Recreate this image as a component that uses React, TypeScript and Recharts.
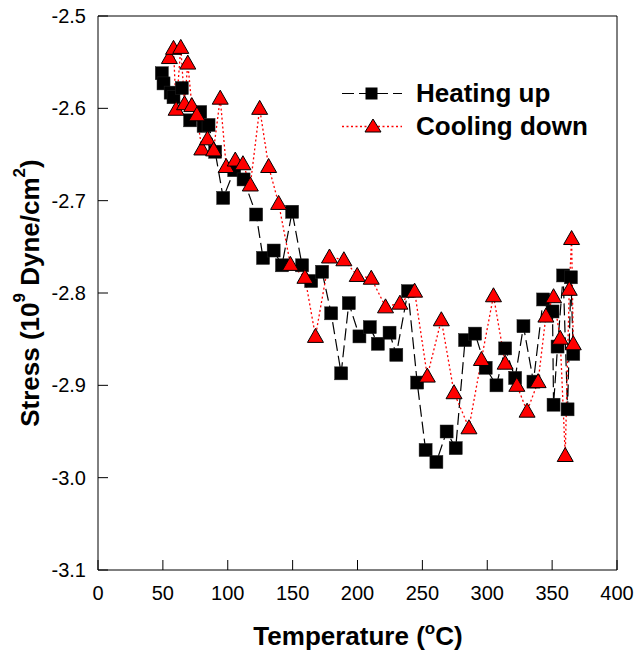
import React from "react";
import {
  LineChart,
  Line,
  XAxis,
  YAxis,
  ReferenceLine,
} from "recharts";

// Heating up (black squares)
const heatTemp = [
  49.2, 50.5, 56, 58.2, 64.6, 71, 78.8, 81.4, 85.2, 90.3, 96.5, 105, 112.2,
  121.9, 127.2, 135.4, 141.8, 149.6, 157.3, 164.3, 172.7, 179.7, 187.4, 193.3,
  201.5, 209.5, 215.7, 224.7, 229.9, 238.9, 246, 252.5, 260.8, 268.7, 275.7,
  282.9, 290.6, 298.8, 307.1, 313.8, 321.5, 327.9, 335.6, 343.1, 350.3, 351.1,
  354.2, 358.5, 361.9, 364.5, 366.3,
];
const heatStress = [
  -2.562, -2.573, -2.583, -2.588, -2.578, -2.613, -2.604, -2.619, -2.618,
  -2.647, -2.697, -2.667, -2.677, -2.715, -2.762, -2.754, -2.77, -2.712, -2.77,
  -2.787, -2.777, -2.822, -2.887, -2.811, -2.847, -2.837, -2.855, -2.843,
  -2.867, -2.798, -2.897, -2.97, -2.983, -2.95, -2.968, -2.851, -2.844, -2.881,
  -2.9, -2.86, -2.892, -2.836, -2.896, -2.807, -2.82, -2.921, -2.858, -2.781,
  -2.926, -2.783, -2.866,
];

// Cooling down (red triangles)
const coolTemp = [
  55, 58.2, 60.2, 63.8, 66.7, 69.2, 72.3, 76.2, 80, 84.4, 89.1, 94.2, 98.8,
  105.8, 111.7, 117.4, 124.6, 131.5, 139.2, 148.3, 159.5, 167.6, 178.4, 189.5,
  199.8, 210.6, 221.6, 232.7, 244, 253.8, 264.6, 274.4, 285.9, 295.5, 304.8,
  313.8, 322.8, 330.7, 339.2, 345.2, 351.1, 356.2, 360.1, 363.2, 365, 366.3,
];
const coolStress = [
  -2.545, -2.535, -2.601, -2.534, -2.595, -2.551, -2.597, -2.607, -2.644,
  -2.633, -2.645, -2.589, -2.663, -2.656, -2.66, -2.683, -2.6, -2.663, -2.703,
  -2.769, -2.783, -2.847, -2.761, -2.764, -2.781, -2.784, -2.815, -2.811,
  -2.798, -2.89, -2.829, -2.908, -2.946, -2.872, -2.803, -2.876, -2.9, -2.928,
  -2.896, -2.825, -2.804, -2.849, -2.976, -2.796, -2.741, -2.855,
];

const xTicks = [0, 50, 100, 150, 200, 250, 300, 350, 400];
const yTicks = [-3.1, -3.0, -2.9, -2.8, -2.7, -2.6, -2.5];

const heating = heatTemp.map((t, i) => ({ t, s: heatStress[i] }));
const cooling = coolTemp.map((t, i) => ({ t, s: coolStress[i] }));

const font = "'Liberation Sans', Arial, sans-serif";

const Square = (props: any) => {
  const { cx, cy, index } = props;
  if (cx == null || cy == null) return null;
  return (
    <rect
      key={`sq-${index}`}
      x={cx - 6.5}
      y={cy - 6.5}
      width={13}
      height={13}
      fill="#000"
      stroke="#222"
      strokeWidth={0.5}
    />
  );
};

const Triangle = (props: any) => {
  const { cx, cy, index } = props;
  if (cx == null || cy == null) return null;
  return (
    <polygon
      key={`tri-${index}`}
      points={`${cx},${cy - 8} ${cx + 8},${cy + 6} ${cx - 8},${cy + 6}`}
      fill="#ff0000"
      stroke="#000"
      strokeWidth={1}
    />
  );
};

function LegendBox() {
  const row = { display: "flex", alignItems: "center", height: 33 } as const;
  const text = {
    fontFamily: font,
    fontWeight: 700,
    fontSize: 26,
    color: "#000",
    lineHeight: "33px",
  };
  return (
    <div style={{ position: "absolute", left: 342, top: 77 }}>
      <div style={row}>
        <svg width={74} height={33}>
          <line x1={0} x2={60} y1={16.5} y2={16.5} stroke="#000" strokeDasharray="12 5" />
          <rect x={23.5} y={10.5} width={12} height={12} fill="#000" />
        </svg>
        <span style={text}>Heating up</span>
      </div>
      <div style={row}>
        <svg width={74} height={33}>
          <line x1={0} x2={60} y1={16.5} y2={16.5} stroke="#ff0000" strokeWidth={1.3} strokeDasharray="2 2.5" />
          <polygon points="31,9 39,22 23,22" fill="#ff0000" stroke="#000" strokeWidth={1} />
        </svg>
        <span style={text}>Cooling down</span>
      </div>
    </div>
  );
}

export default function App() {
  return (
    <div style={{ position: "absolute", left: 0, top: 0, width: 636, height: 659, background: "#fff" }}>
      <LineChart
        width={636}
        height={659}
        margin={{ top: 16, right: 19, left: 0, bottom: 0 }}
      >
        <XAxis
          type="number"
          dataKey="t"
          domain={[0, 400]}
          ticks={xTicks}
          interval={0}
          height={89}
          allowDataOverflow
          stroke="#000"
          tickSize={-10}
          tickMargin={26}
          tick={{ fill: "#000", fontSize: 20, fontFamily: font }}
          label={{
            content: () => (
              <text
                x={358}
                y={645}
                textAnchor="middle"
                fontFamily={font}
                fontWeight={700}
                fontSize={26}
                fill="#000"
              >
                Temperature (
                <tspan dy={-11} fontSize={17}>o</tspan>
                <tspan dy={11}>C)</tspan>
              </text>
            ),
          }}
        />
        <YAxis
          type="number"
          dataKey="s"
          domain={[-3.1, -2.5]}
          ticks={yTicks}
          interval={0}
          width={98}
          allowDataOverflow
          stroke="#000"
          tickSize={-10}
          tickMargin={22}
          tickFormatter={(v) => Number(v).toFixed(1)}
          tick={{ fill: "#000", fontSize: 20, fontFamily: font }}
          label={{
            content: () => (
              <text
                x={30}
                y={293}
                transform="rotate(-90, 30, 293)"
                textAnchor="middle"
                dominantBaseline="central"
                fontFamily={font}
                fontWeight={700}
                fontSize={26}
                fill="#000"
              >
                Stress (10
                <tspan dy={-11} fontSize={17}>9</tspan>
                <tspan dy={11}> Dyne/cm</tspan>
                <tspan dy={-11} fontSize={17}>2</tspan>
                <tspan dy={11}>)</tspan>
              </text>
            ),
          }}
        />
        <ReferenceLine y={-2.5} stroke="#000" />
        <ReferenceLine x={400} stroke="#000" />
        <Line
          data={heating}
          dataKey="s"
          name="Heating up"
          stroke="#000"
          strokeWidth={1.2}
          strokeDasharray="12 5"
          dot={Square}
          activeDot={false}
          isAnimationActive={false}
        />
        <Line
          data={cooling}
          dataKey="s"
          name="Cooling down"
          stroke="#ff0000"
          strokeWidth={1.3}
          strokeDasharray="2 2.5"
          dot={Triangle}
          activeDot={false}
          isAnimationActive={false}
        />
      </LineChart>
      <LegendBox />
    </div>
  );
}
